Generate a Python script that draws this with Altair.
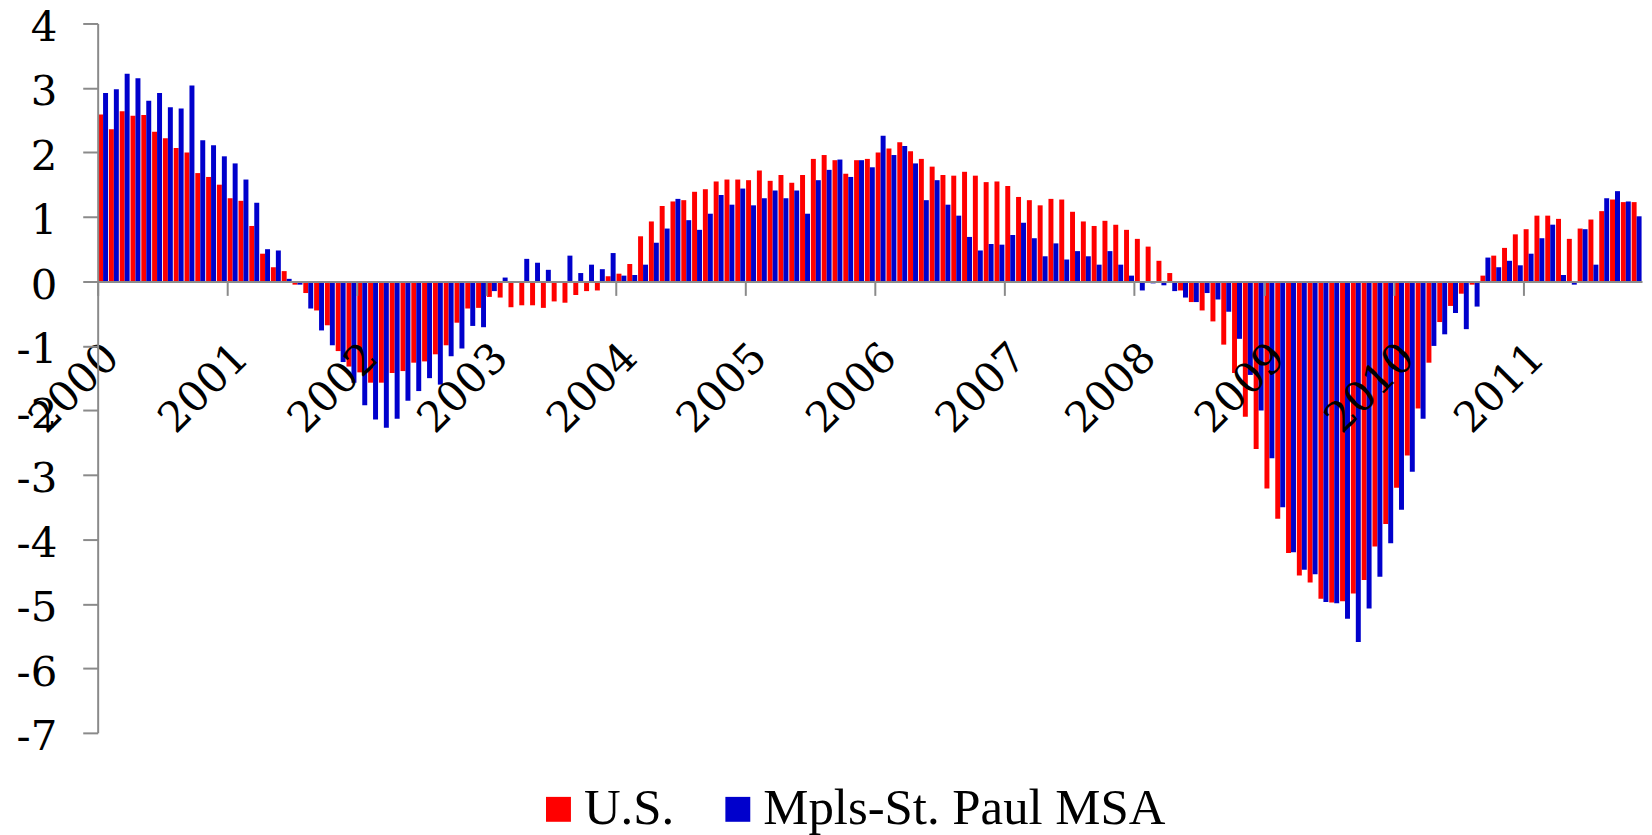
import altair as alt
import pandas as pd

years = list(range(2000, 2012))
months = [f"{y}-{m:02d}" for y in years for m in range(1, 13)][:143]
year_ticks = [f"{y}-01" for y in years]
series_names = ["U.S.", "Mpls-St. Paul MSA"]
colors = ["#FF0000", "#0000CC"]
y_ticks = list(range(-7, 5))

us = [
    2.59, 2.36, 2.64, 2.57, 2.58, 2.32, 2.22, 2.07, 2.00, 1.68, 1.62, 1.50,
    1.29, 1.25, 0.86, 0.43, 0.22, 0.16, -0.05, -0.18, -0.45, -0.68, -1.08, -1.32,
    -1.41, -1.57, -1.57, -1.42, -1.39, -1.26, -1.24, -1.13, -0.99, -0.64, -0.42, -0.41,
    -0.24, -0.25, -0.40, -0.37, -0.37, -0.41, -0.31, -0.33, -0.21, -0.15, -0.14, 0.08,
    0.12, 0.27, 0.70, 0.93, 1.17, 1.24, 1.26, 1.39, 1.43, 1.55, 1.58, 1.58,
    1.57, 1.72, 1.56, 1.65, 1.53, 1.65, 1.90, 1.96, 1.88, 1.67, 1.88, 1.90,
    2.00, 2.06, 2.16, 2.02, 1.90, 1.78, 1.65, 1.64, 1.70, 1.64, 1.54, 1.55,
    1.48, 1.31, 1.26, 1.18, 1.28, 1.27, 1.08, 0.93, 0.86, 0.94, 0.88, 0.80,
    0.66, 0.54, 0.32, 0.13, -0.14, -0.32, -0.45, -0.62, -0.98, -1.42, -2.10, -2.60,
    -3.21, -3.68, -4.21, -4.56, -4.67, -4.92, -4.98, -4.96, -4.84, -4.63, -4.11, -3.76,
    -3.20, -2.70, -1.97, -1.26, -0.63, -0.38, -0.19, -0.05, 0.09, 0.40, 0.52, 0.73,
    0.81, 1.02, 1.02, 0.97, 0.66, 0.82, 0.96, 1.09, 1.27, 1.23, 1.23,
]

msa = [
    2.92, 2.98, 3.22, 3.15, 2.80, 2.92, 2.70, 2.68, 3.04, 2.19, 2.11, 1.94,
    1.83, 1.58, 1.22, 0.50, 0.48, 0.04, -0.05, -0.42, -0.76, -0.99, -1.25, -1.57,
    -1.92, -2.14, -2.27, -2.13, -1.85, -1.70, -1.50, -1.60, -1.16, -1.04, -0.69, -0.71,
    -0.15, 0.06, 0.00, 0.35, 0.29, 0.18, 0.00, 0.40, 0.13, 0.26, 0.19, 0.44,
    0.09, 0.10, 0.26, 0.60, 0.82, 1.28, 0.95, 0.80, 1.05, 1.34, 1.19, 1.44,
    1.18, 1.29, 1.41, 1.29, 1.41, 1.05, 1.57, 1.73, 1.89, 1.62, 1.88, 1.77,
    2.26, 1.96, 2.10, 1.83, 1.26, 1.57, 1.19, 1.02, 0.69, 0.48, 0.58, 0.57,
    0.72, 0.91, 0.67, 0.39, 0.59, 0.34, 0.47, 0.39, 0.26, 0.47, 0.26, 0.09,
    -0.14, -0.03, -0.06, -0.15, -0.25, -0.32, -0.18, -0.28, -0.47, -0.89, -1.45, -2.00,
    -2.74, -3.50, -4.20, -4.47, -4.54, -4.97, -4.99, -5.23, -5.59, -5.07, -4.58, -4.06,
    -3.54, -2.95, -2.13, -1.00, -0.82, -0.49, -0.74, -0.39, 0.37, 0.22, 0.32, 0.25,
    0.43, 0.67, 0.88, 0.10, -0.05, 0.81, 0.26, 1.29, 1.40, 1.24, 1.01,
]

rows = []
for i, m in enumerate(months):
    rows.append({"month": m, "series": series_names[0], "value": us[i]})
    rows.append({"month": m, "series": series_names[1], "value": msa[i]})
df = pd.DataFrame(rows)

W, H = 1550, 712
AXIS_GRAY = "#8a8a8a"

chart = (
    alt.Chart(df)
    .mark_bar()
    .encode(
        x=alt.X(
            "month:O",
            sort=months,
            scale=alt.Scale(paddingInner=0.08, paddingOuter=0.04),
            axis=alt.Axis(
                values=year_ticks,
                bandPosition=0,
                labelExpr="slice(datum.value, 0, 4)",
                labelAngle=-45,
                labelAlign="right",
                labelBaseline="middle",
                labelFont="DejaVu Serif",
                labelFontSize=42,
                labelColor="black",
                labelPadding=55,
                labelOffset=9,
                labelOverlap=False,
                tickSize=14,
                tickColor=AXIS_GRAY,
                tickWidth=2,
                domainColor=AXIS_GRAY,
                domainWidth=2,
                offset=-H * 7 / 11,
                title=None,
                grid=False,
                zindex=1,
            ),
        ),
        xOffset=alt.XOffset(
            "series:N",
            sort=series_names,
            scale=alt.Scale(domain=series_names, paddingInner=0, paddingOuter=0),
        ),
        y=alt.Y(
            "value:Q",
            scale=alt.Scale(domain=[-7, 4], nice=False, zero=False),
            axis=alt.Axis(
                values=y_ticks,
                labelExpr="'' + datum.value",
                labelFont="DejaVu Serif",
                labelFontSize=42,
                labelColor="black",
                labelBaseline="alphabetic",
                labelOffset=17,
                labelPadding=26,
                tickSize=15,
                tickColor=AXIS_GRAY,
                tickWidth=2,
                domainColor=AXIS_GRAY,
                domainWidth=2,
                title=None,
                grid=False,
                zindex=1,
            ),
        ),
        color=alt.Color(
            "series:N",
            sort=series_names,
            scale=alt.Scale(domain=series_names, range=colors),
            legend=alt.Legend(
                orient="none",
                legendX=437,
                legendY=763,
                direction="horizontal",
                title=None,
                symbolType="square",
                symbolSize=625,
                symbolStrokeWidth=0,
                symbolOpacity=1,
                labelFont="Liberation Serif",
                labelFontSize=51,
                labelColor="black",
                labelOffset=0,
                columnPadding=38,
                labelLimit=0,
            ),
        ),
    )
    .properties(
        width=W,
        height=H,
        autosize=alt.AutoSizeParams(type="none"),
        padding={"left": 90, "top": 14, "right": 2, "bottom": 105},
    )
    .configure_view(strokeWidth=0)
)

chart.save("out.html", embed_options={"renderer": "svg", "actions": False})
